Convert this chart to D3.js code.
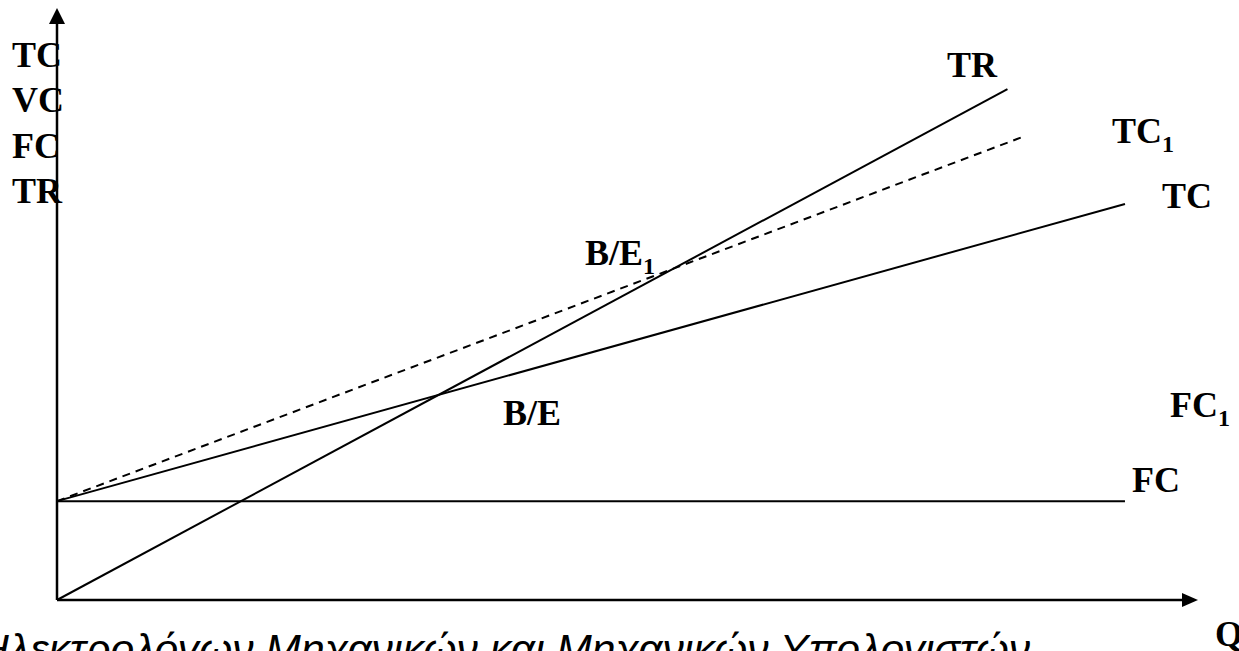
<!DOCTYPE html>
<html>
	<head>
		<meta charset="utf-8">
		<script type="text/javascript" src="https://d3js.org/d3.v7.min.js"></script>
		<style>
			body { margin: 0; background: #fff; }
			svg { display: block; }
			.lbl { font-family: "Liberation Serif", "Times New Roman", serif; font-weight: bold; font-size: 36px; fill: #000; }
			.foot { font-family: "Liberation Sans", Arial, sans-serif; font-style: italic; font-size: 42px; fill: #000; }
		</style>
	</head>
	<body>
		<svg id="viz"></svg>
	</body>
	<script type="text/javascript">
		// curves: value at Q=0 and end point (arbitrary units 0..100)
		var curveNames = ["FC", "TC", "TC1", "TR"];
		var curveStartV = [16.7, 16.7, 16.7, 0];
		var curveEndQ = [93.6, 93.6, 84.6, 83.3];
		var curveEndV = [16.7, 66.9, 78.2, 86.3];

		var axisLabels = ["TC", "VC", "FC", "TR"];
		var footText = "Ηλεκτρολόγων Μηχανικών και Μηχανικών Υπολογιστών";

		var width = 1239, height = 651;

		var svg = d3.select("#viz")
			.attr("width", width)
			.attr("height", height);

		var x = d3.scaleLinear().domain([0, 100]).range([57, 1198]);
		var y = d3.scaleLinear().domain([0, 100]).range([600, 8]);

		var line = d3.line()
			.x(function(d) { return x(d[0]); })
			.y(function(d) { return y(d[1]); });

		//curves
		curveNames.forEach(function(name, i) {
			svg.append("path")
				.attr("d", line([[0, curveStartV[i]], [curveEndQ[i], curveEndV[i]]]))
				.attr("fill", "none")
				.attr("stroke", "#000")
				.attr("stroke-width", 2)
				.attr("stroke-dasharray", name == "TC1" ? "8,6" : null);
		});

		//axes with arrows
		svg.append("line")
			.attr("x1", x(0)).attr("y1", y(0))
			.attr("x2", x(0)).attr("y2", y(100) + 14)
			.attr("stroke", "#000").attr("stroke-width", 2.5);
		svg.append("line")
			.attr("x1", x(0)).attr("y1", y(0))
			.attr("x2", x(100) - 14).attr("y2", y(0))
			.attr("stroke", "#000").attr("stroke-width", 2.5);
		svg.append("path")
			.attr("d", "M" + x(0) + "," + y(100) + "L" + (x(0) - 8) + "," + (y(100) + 16) + "L" + (x(0) + 8) + "," + (y(100) + 16) + "Z")
			.attr("fill", "#000");
		svg.append("path")
			.attr("d", "M" + x(100) + "," + y(0) + "L" + (x(100) - 16) + "," + (y(0) - 7) + "L" + (x(100) - 16) + "," + (y(0) + 7) + "Z")
			.attr("fill", "#000");

		//y axis labels
		svg.selectAll("text.ylab")
			.data(axisLabels)
			.enter()
			.append("text")
			.attr("class", "lbl ylab")
			.attr("x", 12)
			.attr("y", function(d, i) { return 67 + i * 45.3; })
			.text(function(d) { return d; });

		function label(txt, sub, px, py) {
			var t = svg.append("text").attr("class", "lbl").attr("x", px).attr("y", py);
			t.append("tspan").text(txt);
			if (sub) t.append("tspan").attr("dy", 9).style("font-size", "24px").text(sub);
		}
		label("TR", null, 947, 77);
		label("TC", "1", 1112, 143);
		label("TC", null, 1162, 208);
		label("FC", "1", 1170, 417);
		label("FC", null, 1132, 492);
		label("B/E", "1", 585, 265);
		label("B/E", null, 503, 425);
		label("Q", null, 1215, 646);

		svg.append("text")
			.attr("class", "foot")
			.attr("x", -22)
			.attr("y", 664)
			.attr("textLength", 1052)
			.attr("lengthAdjust", "spacingAndGlyphs")
			.text(footText);
	</script>
</html>
